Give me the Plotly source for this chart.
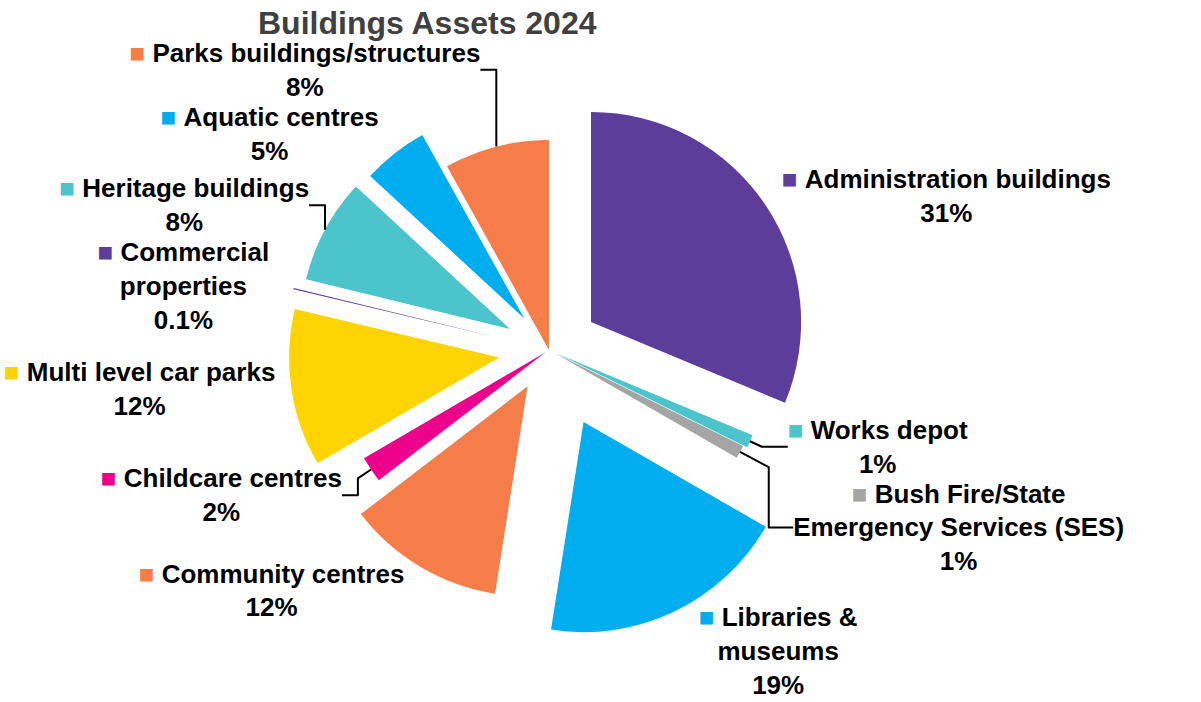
import plotly.graph_objects as go

# Building asset categories, clockwise from 12 o'clock
categories = [
    "Administration buildings",
    "Works depot",
    "Bush Fire/State<br>Emergency Services (SES)",
    "Libraries &<br>museums",
    "Community centres",
    "Childcare centres",
    "Multi level car parks",
    "Commercial<br>properties",
    "Heritage buildings",
    "Aquatic centres",
    "Parks buildings/structures",
]
# Share of total building assets (%)
shares = [31, 1, 1, 19, 12, 2, 12, 0.1, 8, 5, 8]

colors = [
    "#5C3D99", "#4BC4CC", "#A5A5A5", "#00AEEF", "#F47D4A", "#EC008C",
    "#FFD400", "#5C3D99", "#4BC4CC", "#00AEEF", "#F47D4A",
]
pulls = [0.24, 0.05, 0.03, 0.38, 0.2, 0.02, 0.24, 0.25, 0.21, 0.19, 0.0]

FONT = "Liberation Sans, Arial, sans-serif"

label_text = [
    f"<span style='color:{c}'>■</span> <b>{name}</b><br><b>{v:g}%</b>"
    for name, v, c in zip(categories, shares, colors)
]

fig = go.Figure(
    go.Pie(
        labels=categories,
        values=shares,
        text=label_text,
        texttemplate="%{text}",
        textposition="outside",
        textfont=dict(family=FONT, size=26, color="#000000"),
        marker=dict(colors=colors, line=dict(width=0)),
        pull=pulls,
        sort=False,
        direction="clockwise",
        rotation=0,
        hole=0,
        automargin=False,
        showlegend=False,
        domain=dict(x=[0.2157, 0.6986], y=[0.0883, 0.9145]),
    )
)

fig.add_annotation(
    text="<b>Buildings Assets 2024</b>",
    x=0.356, y=0.967, xref="paper", yref="paper",
    xanchor="center", yanchor="middle", showarrow=False,
    font=dict(family=FONT, size=32, color="#404040"),
)

fig.update_layout(
    width=1201, height=702,
    margin=dict(l=0, r=0, t=0, b=0, autoexpand=False),
    paper_bgcolor="white", plot_bgcolor="white",
)

fig.write_html("out.html")
